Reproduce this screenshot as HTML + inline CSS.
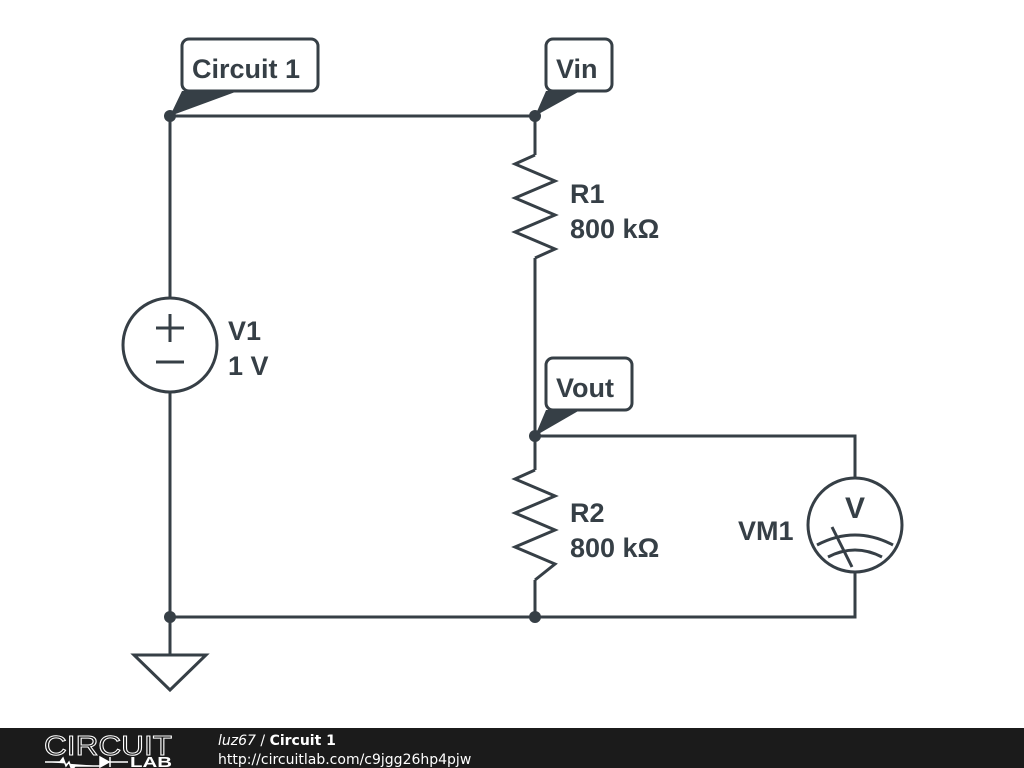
<!DOCTYPE html>
<html><head><meta charset="utf-8"><style>
html,body{margin:0;padding:0;background:#fff;width:1024px;height:768px;overflow:hidden}
svg{display:block}
</style></head><body>
<svg width="1024" height="768" viewBox="0 0 1024 768" xmlns="http://www.w3.org/2000/svg">
<g stroke="#363f46" stroke-width="3" fill="none" stroke-linejoin="miter">
<path d="M170 116 H535 V155"/>
<path d="M535 258 V470"/>
<path d="M535 580 V617 H170"/>
<path d="M170 116 V298"/>
<path d="M170 392 V655"/>
<path d="M535 436 H855 V478"/>
<path d="M855 572 V617 H535"/>
<polyline points="535,155 515,164 555,181 515,198 555,215 515,232 555,249 535,258"/>
<polyline points="535,470 515,479 555,496 515,513 555,530 515,547 555,564 535,580"/>
<circle cx="170" cy="345" r="47"/>
<path d="M156 328 H184 M170 314 V342 M156 362 H184"/>
<path d="M134 655 H206 L170 690 Z"/>
<circle cx="855" cy="525" r="47"/>
<path d="M817 545 Q855 525 893 545"/>
<path d="M828 557 Q855 543 882 557"/>
<path d="M832 527 L852 567"/>
<rect x="182" y="39" width="136" height="52" rx="7" fill="#fff"/>
<rect x="546" y="39" width="66" height="52" rx="7" fill="#fff"/>
<rect x="546" y="358" width="86" height="52" rx="7" fill="#fff"/>
</g>
<g fill="#363f46">
<circle cx="170" cy="116" r="6"/>
<circle cx="535" cy="116" r="6"/>
<circle cx="535" cy="436" r="6"/>
<circle cx="170" cy="617" r="6"/>
<circle cx="535" cy="617" r="6"/>
<polygon points="170,116 182,91 238,91"/>
<polygon points="535,116 546,91 580,91"/>
<polygon points="535,436 546,410 580,410"/>
</g>
<g font-family="Liberation Sans, sans-serif" font-weight="bold" font-size="27" fill="#363f46">
<text x="192" y="78">Circuit 1</text>
<text x="556" y="78">Vin</text>
<text x="556" y="397">Vout</text>
<text x="570" y="203">R1</text>
<text x="570" y="238">800 kΩ</text>
<text x="570" y="522">R2</text>
<text x="570" y="557">800 kΩ</text>
<text x="228" y="340">V1</text>
<text x="228" y="375">1 V</text>
<text x="738" y="540">VM1</text>
<text x="855" y="518" text-anchor="middle" font-size="30">V</text>
</g>
<rect x="0" y="728" width="1024" height="40" fill="#1b1b1b"/>
<g font-family="DejaVu Sans, sans-serif" fill="#fff">
<text x="44" y="755" font-size="28" fill="none" stroke="#fff" stroke-width="1" font-family="Liberation Sans, sans-serif" textLength="128" lengthAdjust="spacingAndGlyphs">CIRCUIT</text>
<text x="130" y="767" font-size="15" font-weight="bold" font-family="Liberation Sans, sans-serif" textLength="42" lengthAdjust="spacingAndGlyphs">LAB</text>
<text x="218" y="745" font-size="14"><tspan font-style="italic">luz67</tspan> / <tspan font-weight="bold">Circuit 1</tspan></text>
<text x="218" y="764" font-size="14">http://circuitlab.com/c9jgg26hp4pjw</text>
</g>
<path d="M45 762 H60 l3 -4 l3 8 l3 -4 l3 8 l3 -4 H100 M100 757 v10 l9 -5 z M110 757 v10 M110 762 H128" stroke="#fff" stroke-width="1.5" fill="#fff"/>
</svg>
</body></html>
